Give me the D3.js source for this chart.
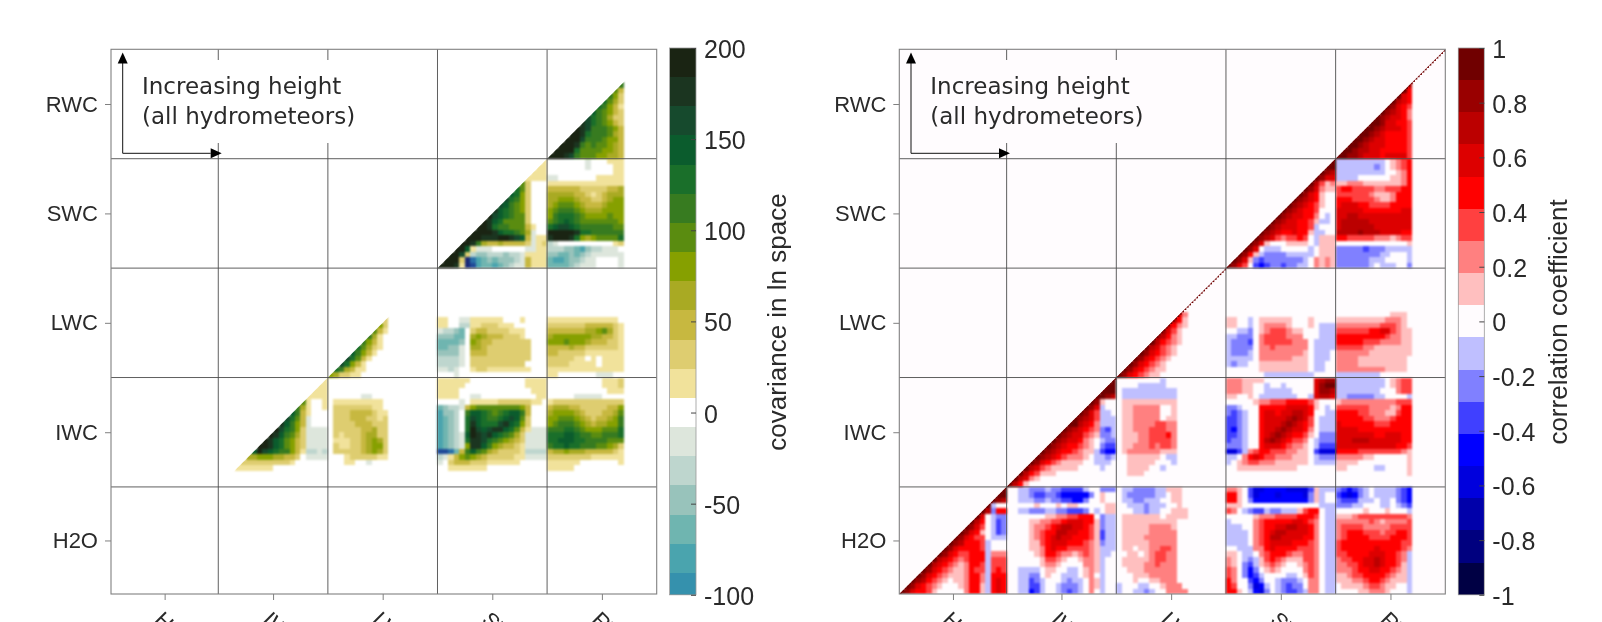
<!DOCTYPE html>
<html>
<head>
<meta charset="utf-8">
<script src="https://cdn.jsdelivr.net/npm/d3@7"></script>
<style>
  html, body { margin: 0; padding: 0; background: #fff; overflow: hidden; }
  svg { display: block; filter: blur(0.45px); }
  text { font-family: "Liberation Sans", sans-serif; fill: #2a2a2a; }
  .soft { filter: blur(1px); }
</style>
</head>
<body>
<svg></svg>
<script>
let species = ['H2O', 'IWC', 'LWC', 'SWC', 'RWC'];
let levelCounts = [46, 47, 47, 47, 47];
let blockCells = 20;

let covTicks = [200, 150, 100, 50, 0, -50, -100];
let corrTicks = [1, 0.8, 0.6, 0.4, 0.2, 0, -0.2, -0.4, -0.6, -0.8, -1];

// Each string is one row of a block, top to bottom. '.' means no value,
// 1-9,A,B,C are positive colour levels and a,b,c.. are negative ones.
let covRwcRwc = ['','','','','','',
'.............7','............63','...........752','..........8642','.........87531','........976532','.......A876422','......BA876532','.....CBA777653','....CCB8777643','...CCCA7776553','..CCCB76766543','.CCCC866665543','CCCBA766655443'];
let covSwcRwc = ['.......a...111','.......a....11','............11','aa.......11111','11111111111111','33333322222334','44444332123444','44555433223455','45666543334555','56777654445555','57888765555655','67898766666665','89AA9877777766','CCCCCB88777777','BCCCB854566668','ba..........12','bbbccdecbbaaa.','ccddcdcbaaaaaa','deedccbaa....a','ddddcbaaa....a'];
let covSwcSwc = ['...................1','..................11','.................111','................1111','...............62...','..............862...','.............9852...','............A8752...','...........A97652...','..........B987652...','.........CA987662...','........CB9866662...','.......CCB87766631..','......CCCCB988764a..','.....CCCBBBCCBA93a11','....CCB7433433332a12','...CC91aaa......aa11','..CCA2bccbbbcbba1111','.CCC2igedcdcccba3111','CCCB1iheddedcbaa3111'];
let covLwcSwc = ['','','','','','','','','','11..aa111111...1....','11..bb11222111......','abbcd.2332222111....','cccdd.4543332221....','ddddc.54332222222...','ddcca.44322222222...','cccca.33322222222...','bbbba.22222222222...','bbbba.2222222222....','aaba..12211111111...','...a'];
let covLwcRwc = ['','','','','','','','','','1111111111111','22222223333321','33333334456421','45555555443321','55565554333221','33334332222221','33222221111111','2222211.1.1111','222211111.1111','11111111111111','11.......aaa'];
let covLwcLwc = ['','','','','','','','','','..........2','.........52','........631','.......741','......7531','.....86421','....97531','...A8631','..A8531','.874311','542211'];
let covIwcIwc = ['...................1','..................11','.................111','................1111','...............61..1','..............741..1','.............9731','............A863a','...........B9753a','..........CA8752aaaa','.........CB97642aaaa','........CB986532aaaa','.......CCB986532aaaa','......9CA9877531bbab','.....4455544332.aaaa','....2222222221','...1111111','','',''];
let covIwcLwc = ['','','','......aa','.111111111','.222222211','.2223333211','.2223332212','.2222333222','.2222233422','.2122234422','.1112234542','.2112234552','.2222234542','...12222211','...11..a','','','',''];
let covIwcSwc = ['111111..........1111','11111...........1111','1111.............111','1111..aa..........11','....a.1111122222211.','dcbba356666666653...','eccb.799876789973...','edcb.8A987789A962...','edcb.8B9888AB9852...','edcb.8CA9ABB98631aaa','edcba9CBAB987642aaaa','edcba8BBA8765432aaaa','edcba5BB97543321aaaa','hhgd379764322221bbbb','ba13565432222211aaaa','a.2333222111111','..1111111','','',''];
let covIwcRwc = ['..........1112','..........1112','...........111','.....aaaaa','12222222222222','34443322222335','45555432223346','55666543233457','56777654344557','77788765556668','88899877667778','88999887777666','78898877766542','34454443333321','22222222111111','111111.......1','11111','','',''];

let corrRwcRwc = ['','','','','','',
'.............6','............84','...........854','..........8654','.........87543','........876542','.......8765542','......88755443','.....887655543','....8876544443','...88765544443','..887655544443','.8876655444443','88776555455553'];
let corrSwcRwc = ['aaaaaaaaa.1234','aaaaaaaba.1234','aaaaaaaaa..124','aaaa......1124','11222111111124','34433332233344','33333321112444','44433332112444','45554433334444','55555444444455','55665555555555','56666655555555','56666665555555','66667666555544','44333332221233','.............1','bbbbbcbbbaaaaa','bbbbbbbbaa...a','bbbbbbaaa....a','bbbbbba.aaa..b'];
let corrSwcSwc = ['...................8','..................88','.................876','................8755','...............86312','..............875211','.............87541..','............876541','...........8765431','..........8765443','.........87655442.a.','........876554431aa.','.......876555443a','......8765445441aa..','.....8765323343.a111','....8751...1111.a111','...875.aaa.....a.111','..8741abbbbaaaaa.111','.8751bcbbbbbbba.2121','8753.cdcbbcbbaa.2121'];
let corrLwcSwc = ['','','','','','','','','','11..a.111111...1....','11..a.122221...1.aaa','..aab.12333211...aaa','aabbb.23333222...aaa','abbbc.233333222.aaaa','abbbb.223222222.aaaa','abbba.222222221.aaa.','aaaaa.222222111.aaa.','abaa..111111111.aa..','......111111111.aa..','.......aaaaaaaaa....'];
let corrLwcRwc = ['','','','','','','','','..........111','1111111112221','2222222233321','33333344553211','44444444432211','44444333222211','33333221111111','22222211111111','2222111111111','2222111111111','2222222221111','aaaaaaaa'];
let corrLwcLwc = ['','','','','','','','','...........52','..........641','.........6421','........7531','.......76421','......864321','.....865321','....8754321','...8754321','..8754321','.87543211','87543211'];
let corrIwcIwc = ['...................8','..................88','.................888','................8876','...............871..','..............875a..','.............8753aa.','............87653aaa','...........886542aaa','..........8765432bca','.........87655321bba','........87655421.abb','.......876544321.bcc','......8765443211acdd','.....8765432221.aaba','....8754321111..aaa.','...8653211111....a..','..8643111','.86521','8641'];
let corrIwcLwc = ['........a','....aaaaa','.aaaaaaaaaa','.aaaaaaaaaa','.1111111111','.1122222..1','.1122222..1','.1122222.11','.1122223322','.1122233322','.1112233342','.1112233332','.1122232332','.1222222111','..111111.aa','..11111...a','..1111..a.','..111','',''];
let corrIwcSwc = ['2221111.........5677','22211..a..a.....5788','22211..aaaaa....5776','11..1.aaaaaaa..a5665','.....122333444431...','bba...44444555541.a.','bcba..4554556654..aa','ccba..4555567653.aaa','ccba..4555676543.aaa','cdba..4556765542.aaa','ccba..4567654431.bbb','cbba..467654332.abbb','bbba..455543221.accc','eeca23443332211.ceee','aa.245433222111.abbb','a.1233222111111.aaaa','..11111111111','','',''];
let corrIwcRwc = ['aaaaaaaaa.1233','aaaaaaaaa.1233','aaaaaaaa...233','aabbbbbaa....a','12222222222333','33333322221244','44443322211344','44444332223444','54444443334444','55554444444444','55555554455544','55566655555544','55555555555443','44443333333321','2222211......1','1111.........1','11.....aa....1','.............1','',''];
let corrH2oH2o = ['...................8','..................88','.................876','................8a..','...............86b44','..............85.abb','.............864.acb','............8753.acb','...........87541.acb','..........875433.aaa','.........8764443a...','........87544443a...','.......875433444a222','......8654323444a333','.....86543212443a333','....875432112433a343','...8754321112442a444','..8764321.112442a454','.8754321...12441a454','8754431.....2441a454'];
let corrH2oIwc = ['..aabbbabbcccca..bbb','..aabccbbcdddddb.1..','..aaabbabbccddb..1..','.....1...1.11.....11','..aabbbaabbcccb.a.11','.......112233444.baa','....1122334555441baa','....1223456655431baa','....1234466554431caa','....1234565544431caa','....1134555444321baa','....1124544333321aaa','.....124432212321aa.','......13321..1221a..','......1221....221a..','..aaaa.11..aa.121a..','..aabb.1..aaa.12.a..','..aacba...abaa.21a..','..aacca..abbba.21a..','..aadca..abcba.2.a..'];
let corrH2oLwc = ['.aabbbbaa111','.abbbbbaa.11','.aabbaaa..11','..aaabaaa..1','...aabaa..111','.1111111.1111','.1111111111','.1111122221','.1111122222','.1111222222','.1111122222','.11.1122332','..11.123322','.1111123322','.1111223222','..111222222','...11122222','...1..11222','a...aa..1222','a..aaba..2222'];
let corrH2oSwc = ['221.ceeddddeeeec1aaa','441.cedddeddddeb1a..','441.bddddddddddb1a..','111..............aaa','32.abccabbaaa1344.aa','.....122233334443.aa','a....234444455432.aa','aaa..234455665542.aa','aaaa.234566555542.aa','aaaa.234665555442.aa','aaaa.234555544432.aa','..aaa224544443332.aa','11.aa.23444322332.aa','21.aba13432111332.aa','21.bca12321..1232.aa','32.bdb.121....232.aa','32.bdca....aa.132.aa','42..cdb..abbba.22.aa','43..beda.abcbb.22.aa','441.adeb.abccba22.aa'];
let corrH2oRwc = ['bcdcba.aaaabcd','cdedba.aaaabcd','bcccaaa.aa.bcd','bbbaa...aa.abc','.....1...1...a','11123333333332','22222232122223','23333222223333','23444333233443','23444433334443','34444444444433','34444445444432','3344445554432a','2334455654432a','2233455654431a','2223445544321a','1123344443211a','1112234432111a','.1111233211..a','....112221...a'];

let covBlocks = [
  ['RWC', 'RWC', covRwcRwc], ['SWC', 'RWC', covSwcRwc], ['SWC', 'SWC', covSwcSwc],
  ['LWC', 'SWC', covLwcSwc], ['LWC', 'RWC', covLwcRwc], ['LWC', 'LWC', covLwcLwc],
  ['IWC', 'IWC', covIwcIwc], ['IWC', 'LWC', covIwcLwc], ['IWC', 'SWC', covIwcSwc], ['IWC', 'RWC', covIwcRwc]
];
let corrBlocks = [
  ['RWC', 'RWC', corrRwcRwc], ['SWC', 'RWC', corrSwcRwc], ['SWC', 'SWC', corrSwcSwc],
  ['LWC', 'SWC', corrLwcSwc], ['LWC', 'RWC', corrLwcRwc], ['LWC', 'LWC', corrLwcLwc],
  ['IWC', 'IWC', corrIwcIwc], ['IWC', 'LWC', corrIwcLwc], ['IWC', 'SWC', corrIwcSwc], ['IWC', 'RWC', corrIwcRwc],
  ['H2O', 'H2O', corrH2oH2o], ['H2O', 'IWC', corrH2oIwc], ['H2O', 'LWC', corrH2oLwc], ['H2O', 'SWC', corrH2oSwc], ['H2O', 'RWC', corrH2oRwc]
];

// Colours run low to high. The three covariance colours below the bar are only seen in the blocks.
let covColors = ['#1a2a78', '#1f4a98', '#2a70a8', '#3591ad', '#4aa4ae', '#6fb5b0', '#98c3bb', '#bed6ce', '#dde6dc', '#ffffff',
  '#f1e29b', '#decd70', '#c7b840', '#a9aa23', '#86a000', '#5a8c10', '#377b20', '#1a6f2a', '#0b5c2d', '#164a2d', '#1b3520', '#1a2413'];
let corrColors = ['#000044', '#00007f', '#0000aa', '#0000dd', '#0000ff', '#4040ff', '#8080ff', '#bfbfff', '#fffcfe',
  '#ffbfbf', '#ff8080', '#ff4040', '#ff0000', '#dd0000', '#bb0000', '#990000', '#700000'];

let covStep = 16;
let corrStep = 2 / 17;

let width = 1602;
let height = 622;
let plotTop = 49.3;
let plotBottom = 594;
let totalLevels = d3.sum(levelCounts);
let levelEdges = [0, ...d3.cumsum(levelCounts)];

let svg = d3.select('svg').attr('width', width).attr('height', height);

let covScale = d3.scaleThreshold()
  .domain(d3.range(-9, 12).map((k) => (k + 0.5) * covStep))
  .range(covColors);
let corrScale = d3.scaleThreshold()
  .domain(d3.range(-8, 8).map((k) => (k + 0.5) * corrStep))
  .range(corrColors);

let levelOf = (ch) => {
  if (ch === '.') return null;
  if (ch >= 'a' && ch <= 'i') return -(ch.charCodeAt(0) - 96);
  return parseInt(ch, 16);
};

let drawPanel = (panel) => {
  let g = svg.append('g');
  let xScale = d3.scaleLinear().domain([0, totalLevels]).range([panel.left, panel.right]);
  let yScale = d3.scaleLinear().domain([0, totalLevels]).range([plotBottom, plotTop]);

  g.append('rect')
    .attr('x', panel.left).attr('y', plotTop)
    .attr('width', panel.right - panel.left).attr('height', plotBottom - plotTop)
    .attr('fill', panel.background);

  // Nothing is plotted above the diagonal, so the blocks are cut along it.
  g.append('clipPath').attr('id', panel.id + '-clip')
    .append('polygon')
    .attr('points', [[0, 0], [totalLevels, totalLevels], [totalLevels, 0]]
      .map((p) => xScale(p[0]) + ',' + yScale(p[1])).join(' '));
  let clipped = g.append('g').attr('clip-path', 'url(#' + panel.id + '-clip)');
  let cells = clipped.append('g').attr('class', 'soft').attr('shape-rendering', 'crispEdges');

  panel.blocks.forEach((block) => {
    let rowIndex = species.indexOf(block[0]);
    let colIndex = species.indexOf(block[1]);
    let colBand = d3.scaleBand().domain(d3.range(blockCells))
      .range([xScale(levelEdges[colIndex]), xScale(levelEdges[colIndex + 1])]);
    let rowBand = d3.scaleBand().domain(d3.range(blockCells))
      .range([yScale(levelEdges[rowIndex + 1]), yScale(levelEdges[rowIndex])]);
    let values = [];
    block[2].forEach((row, r) => {
      Array.from(row).forEach((ch, c) => {
        let level = levelOf(ch);
        if (level !== null) values.push({ r: r, c: c, value: level * panel.step });
      });
    });
    cells.selectAll(null)
      .data(values)
      .enter()
      .append('rect')
      .attr('x', (item) => colBand(item.c))
      .attr('y', (item) => rowBand(item.r))
      .attr('width', colBand.bandwidth())
      .attr('height', rowBand.bandwidth())
      .attr('fill', (item) => panel.scale(item.value));
  });

  // A variable correlates perfectly with itself, so the right panel has a diagonal of ones.
  if (panel.diagonal) {
    clipped.append('g').selectAll('rect')
      .data(d3.range(totalLevels))
      .enter()
      .append('rect')
      .attr('x', (item) => xScale(item))
      .attr('y', (item) => yScale(item + 1))
      .attr('width', xScale(1) - xScale(0))
      .attr('height', yScale(0) - yScale(1))
      .attr('fill', panel.scale(0.9));
  }

  // block separators
  levelEdges.slice(1, -1).forEach((edge) => {
    g.append('line').attr('x1', xScale(edge)).attr('x2', xScale(edge))
      .attr('y1', plotTop).attr('y2', plotBottom)
      .attr('stroke', '#4d4d4d').attr('stroke-width', 0.9);
    g.append('line').attr('x1', panel.left).attr('x2', panel.right)
      .attr('y1', yScale(edge)).attr('y2', yScale(edge))
      .attr('stroke', '#4d4d4d').attr('stroke-width', 0.9);
  });

  g.append('rect')
    .attr('x', panel.left).attr('y', plotTop)
    .attr('width', panel.right - panel.left).attr('height', plotBottom - plotTop)
    .attr('fill', 'none').attr('stroke', '#808080').attr('stroke-width', 1.1);

  // axes sit on the centre of each block
  let centres = species.map((s, i) => (levelEdges[i] + levelEdges[i + 1]) / 2);
  let xAxisScale = d3.scaleOrdinal().domain(species).range(centres.map((c) => xScale(c)));
  let yAxisScale = d3.scaleOrdinal().domain(species).range(centres.map((c) => yScale(c)));

  let yAxis = g.append('g')
    .attr('transform', 'translate(' + panel.left + ',0)')
    .call(d3.axisLeft(yAxisScale).tickSize(6).tickPadding(7));
  yAxis.select('.domain').remove();
  yAxis.selectAll('line').attr('stroke', '#808080');
  yAxis.selectAll('text').attr('font-size', 22).attr('font-family', '"Liberation Sans"');

  let xAxis = g.append('g')
    .attr('transform', 'translate(0,' + plotBottom + ')')
    .call(d3.axisBottom(xAxisScale).tickSize(6));
  xAxis.select('.domain').remove();
  xAxis.selectAll('line').attr('stroke', '#808080');
  xAxis.selectAll('text')
    .attr('font-size', 22)
    .attr('font-family', '"Liberation Sans"')
    .attr('text-anchor', 'start')
    .attr('x', 0).attr('y', 0).attr('dy', 0)
    .attr('transform', 'translate(-12,27) rotate(45)');

  // annotation box with the height arrows
  g.append('rect')
    .attr('x', panel.left + 24).attr('y', 60)
    .attr('width', 212).attr('height', 83)
    .attr('fill', panel.background);
  g.append('text').attr('x', panel.left + 31).attr('y', 94)
    .attr('font-size', 23).style('font-family', '"DejaVu Sans"').text('Increasing height');
  g.append('text').attr('x', panel.left + 31).attr('y', 123.5)
    .attr('font-size', 23).style('font-family', '"DejaVu Sans"').text('(all hydrometeors)');

  let arrowX = panel.left + 11.7;
  let arrowY = 153.3;
  g.append('path')
    .attr('d', 'M' + arrowX + ',62 V' + arrowY + ' H' + (arrowX + 88))
    .attr('fill', 'none').attr('stroke', '#111').attr('stroke-width', 1);
  g.append('path')
    .attr('d', 'M' + arrowX + ',52.5 l-5,11 h10 z').attr('fill', '#000');
  g.append('path')
    .attr('d', 'M' + (arrowX + 99) + ',' + arrowY + ' l-11,-5 v10 z').attr('fill', '#000');
};

let drawColorbar = (bar) => {
  let g = svg.append('g');
  let barScale = d3.scaleLinear().domain(bar.domain).range([594.8, 48]);

  g.selectAll('rect')
    .data(bar.segments)
    .enter()
    .append('rect')
    .attr('x', bar.left)
    .attr('width', bar.width)
    .attr('y', (item) => barScale(Math.min(item * bar.step + bar.step / 2, bar.domain[1])))
    .attr('height', (item) => barScale(Math.max(item * bar.step - bar.step / 2, bar.domain[0])) - barScale(Math.min(item * bar.step + bar.step / 2, bar.domain[1])))
    .attr('fill', (item) => bar.scale(item * bar.step))
    .attr('shape-rendering', 'crispEdges');

  g.append('rect')
    .attr('x', bar.left).attr('y', barScale(bar.domain[1]))
    .attr('width', bar.width).attr('height', barScale(bar.domain[0]) - barScale(bar.domain[1]))
    .attr('fill', 'none').attr('stroke', '#999').attr('stroke-width', 0.8);

  let axis = g.append('g')
    .attr('transform', 'translate(' + (bar.left + bar.width) + ',0)')
    .call(d3.axisRight(barScale).tickValues(bar.ticks).tickFormat((d) => d).tickSize(-5).tickPadding(8));
  axis.select('.domain').remove();
  axis.selectAll('line').attr('stroke', '#444');
  axis.selectAll('text').attr('font-size', 25).attr('font-family', '"Liberation Sans"').attr('dy', '0.38em');

  g.append('text')
    .attr('transform', 'translate(' + bar.labelX + ',' + bar.labelY + ') rotate(-90)')
    .attr('text-anchor', 'middle')
    .attr('dy', '0.35em')
    .attr('font-size', 26)
    .text(bar.label);
};

drawPanel({ id: 'cov', left: 111, right: 656.7, blocks: covBlocks, scale: covScale, step: covStep, background: '#ffffff', diagonal: false });
drawPanel({ id: 'corr', left: 899.3, right: 1445.3, blocks: corrBlocks, scale: corrScale, step: corrStep, background: '#fffcfe', diagonal: true });

drawColorbar({ left: 669.5, width: 26.5, domain: [-100, 200], step: covStep, segments: d3.range(-6, 13), scale: covScale, ticks: covTicks, label: 'covariance in ln space', labelX: 777, labelY: 322 });
drawColorbar({ left: 1458.3, width: 26, domain: [-1, 1], step: corrStep, segments: d3.range(-8, 9), scale: corrScale, ticks: corrTicks, label: 'correlation coefficient', labelX: 1558, labelY: 322 });
</script>
</body>
</html>
